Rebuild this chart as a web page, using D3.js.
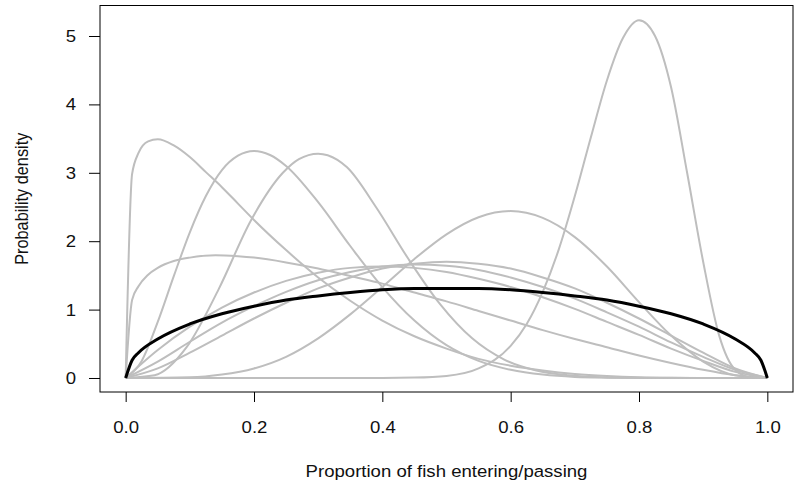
<!DOCTYPE html>
<html>
<head>
<meta charset="utf-8">
<script src="https://cdn.jsdelivr.net/npm/d3@7"></script>
<style>
  body { margin: 0; background: #fff; }
  svg { display: block; }
</style>
</head>
<body>
<div id="chart"></div>
<script>
// Density curves, as [proportion, density] pairs
var curveA = [[0,0],[0.01,2.98],[0.02,3.29],[0.035,3.46],[0.05,3.49],[0.075,3.40],[0.1,3.23],[0.125,3.01],[0.15,2.79],[0.175,2.55],[0.2,2.31],[0.25,1.87],[0.3,1.47],[0.35,1.13],[0.4,0.84],[0.45,0.61],[0.5,0.43],[0.55,0.28],[0.6,0.18],[0.65,0.11],[0.7,0.06],[0.75,0.03],[0.8,0.012],[0.85,0.004],[0.9,0.001],[1,0]];
var curveB = [[0,0],[0.025,0.25],[0.05,0.82],[0.075,1.49],[0.1,2.13],[0.125,2.66],[0.15,3.04],[0.175,3.25],[0.2,3.32],[0.225,3.26],[0.25,3.10],[0.3,2.57],[0.35,1.93],[0.4,1.33],[0.45,0.84],[0.5,0.48],[0.55,0.25],[0.6,0.12],[0.65,0.05],[0.7,0.016],[0.75,0.005],[0.8,0.001],[1,0]];
var curveC = [[0,0],[0.045,0.04],[0.095,0.45],[0.145,1.30],[0.195,2.30],[0.245,3.00],[0.27,3.20],[0.3,3.28],[0.33,3.19],[0.345,3.08],[0.39,2.50],[0.44,1.75],[0.49,1.08],[0.54,0.58],[0.59,0.27],[0.64,0.11],[0.69,0.04],[0.74,0.01],[0.8,0.002],[0.9,0],[1,0]];
var curveD = [[0,0],[0.01,1.14],[0.02,1.34],[0.035,1.51],[0.05,1.61],[0.075,1.71],[0.1,1.76],[0.14,1.795],[0.175,1.78],[0.2,1.76],[0.25,1.69],[0.3,1.60],[0.35,1.49],[0.4,1.38],[0.45,1.25],[0.5,1.12],[0.55,0.98],[0.6,0.84],[0.65,0.70],[0.7,0.57],[0.75,0.45],[0.8,0.33],[0.85,0.22],[0.9,0.12],[0.95,0.04],[0.99,0.004],[1,0]];
var curveE = [[0,0],[0.1,0.01],[0.15,0.05],[0.2,0.14],[0.25,0.31],[0.3,0.58],[0.35,0.93],[0.4,1.33],[0.45,1.74],[0.5,2.10],[0.55,2.35],[0.6,2.44],[0.65,2.34],[0.7,2.06],[0.75,1.63],[0.8,1.11],[0.85,0.62],[0.9,0.24],[0.95,0.04],[1,0]];
var curveF = [[0,0],[0.4,0.001],[0.45,0.006],[0.5,0.03],[0.55,0.14],[0.6,0.47],[0.625,0.79],[0.65,1.26],[0.675,1.88],[0.7,2.66],[0.725,3.52],[0.75,4.35],[0.775,4.97],[0.8,5.23],[0.825,5.0],[0.85,4.25],[0.875,3.0],[0.9,1.7],[0.925,0.62],[0.95,0.12],[0.975,0.006],[1,0]];
var curveG1 = [[0,0],[0.05,0.41],[0.1,0.75],[0.15,1.03],[0.2,1.25],[0.25,1.42],[0.3,1.54],[0.35,1.61],[0.4,1.63],[0.45,1.61],[0.5,1.55],[0.55,1.45],[0.6,1.33],[0.65,1.18],[0.7,1.01],[0.75,0.82],[0.8,0.63],[0.85,0.43],[0.9,0.25],[0.95,0.09],[1,0]];
var curveG2 = [[0,0],[0.05,0.14],[0.1,0.37],[0.15,0.62],[0.2,0.87],[0.25,1.10],[0.3,1.31],[0.35,1.47],[0.4,1.60],[0.45,1.67],[0.5,1.70],[0.55,1.67],[0.6,1.60],[0.65,1.47],[0.7,1.31],[0.75,1.10],[0.8,0.87],[0.85,0.62],[0.9,0.37],[0.95,0.14],[1,0]];
var curveG3 = [[0,0],[0.05,0.24],[0.1,0.53],[0.15,0.81],[0.2,1.05],[0.25,1.26],[0.3,1.43],[0.35,1.55],[0.4,1.63],[0.45,1.66],[0.5,1.64],[0.55,1.58],[0.6,1.47],[0.65,1.33],[0.7,1.16],[0.75,0.96],[0.8,0.75],[0.85,0.52],[0.9,0.31],[0.95,0.12],[1,0]];
// The overall (black) curve
var curveOverall = [[0,0],[0.01,0.26],[0.02,0.37],[0.05,0.57],[0.1,0.79],[0.15,0.94],[0.2,1.05],[0.25,1.14],[0.3,1.20],[0.35,1.25],[0.4,1.29],[0.45,1.31],[0.5,1.31],[0.55,1.31],[0.6,1.29],[0.65,1.25],[0.7,1.20],[0.75,1.14],[0.8,1.05],[0.85,0.94],[0.9,0.79],[0.95,0.57],[0.98,0.37],[0.99,0.26],[1,0]];

var grayCurves = [curveA, curveB, curveC, curveD, curveE, curveF, curveG1, curveG2, curveG3];

var xTicks = [0, 0.2, 0.4, 0.6, 0.8, 1.0];
var yTicks = [0, 1, 2, 3, 4, 5];
var xTitle = "Proportion of fish entering/passing";
var yTitle = "Probability density";

var width = 795;
var height = 489;
var box = ({ left: 100, right: 793, top: 5.5, bottom: 392 });
var fontSize = 16.3;
var stretch = 1.14;   // the picture looks stretched sideways, text included

// R style: 4% padding around the data range
var x = d3.scaleLinear([-0.04, 1.04], [box.left, box.right]);
var y = d3.scaleLinear([-0.2047, 5.446], [box.bottom, box.top]);

var svg = d3.select("#chart")
    .append("svg")
    .attr("width", width)
    .attr("height", height)
    .attr("font-family", "Liberation Sans, Arial, sans-serif");

var line = d3.line()
    .x(d => x(d[0]))
    .y(d => y(d[1]))
    .curve(d3.curveMonotoneX);

// Gray curves first, black one on top
svg.append("g")
    .selectAll("path")
    .data(grayCurves)
    .join("path")
    .attr("d", line)
    .attr("fill", "none")
    .attr("stroke", "#bebebe")
    .attr("stroke-width", 2);

svg.append("path")
    .datum(curveOverall)
    .attr("d", line)
    .attr("fill", "none")
    .attr("stroke", "#000")
    .attr("stroke-width", 3);

// Axes
var xAxis = svg.append("g")
    .attr("transform", `translate(0,${box.bottom})`)
    .call(d3.axisBottom(x).tickValues(xTicks).tickFormat(d3.format(".1f")).tickSize(10));
var yAxis = svg.append("g")
    .attr("transform", `translate(${box.left},0)`)
    .call(d3.axisLeft(y).tickValues(yTicks).tickFormat(d3.format("d")).tickSize(11));

[xAxis, yAxis].forEach(function (g) {
    g.select(".domain").remove();
    g.selectAll(".tick line").attr("stroke", "#000");
    g.selectAll(".tick text")
        .attr("font-size", fontSize)
        .attr("font-family", "Liberation Sans, Arial, sans-serif")
        .attr("fill", "#111");
});
xAxis.selectAll(".tick text")
    .attr("y", 0).attr("dy", null)
    .attr("dominant-baseline", "central")
    .attr("transform", `translate(0,35) scale(${stretch},1)`);
yAxis.selectAll(".tick text")
    .attr("x", 0).attr("dy", null)
    .attr("dominant-baseline", "central")
    .attr("transform", `translate(-24,0) scale(${stretch},1)`);

// Plot frame
svg.append("rect")
    .attr("x", box.left)
    .attr("y", box.top)
    .attr("width", box.right - box.left)
    .attr("height", box.bottom - box.top)
    .attr("fill", "none")
    .attr("stroke", "#000")
    .attr("stroke-width", 1);

// Titles
svg.append("text")
    .attr("transform", `translate(${(box.left + box.right) / 2},471) scale(${stretch},1)`)
    .attr("text-anchor", "middle")
    .attr("dominant-baseline", "central")
    .attr("font-size", fontSize)
    .attr("fill", "#111")
    .text(xTitle);

svg.append("text")
    .attr("transform", `translate(22,${(box.top + box.bottom) / 2}) scale(${stretch},1) rotate(-90)`)
    .attr("text-anchor", "middle")
    .attr("dominant-baseline", "central")
    .attr("font-size", fontSize)
    .attr("fill", "#111")
    .text(yTitle);
</script>
</body>
</html>
